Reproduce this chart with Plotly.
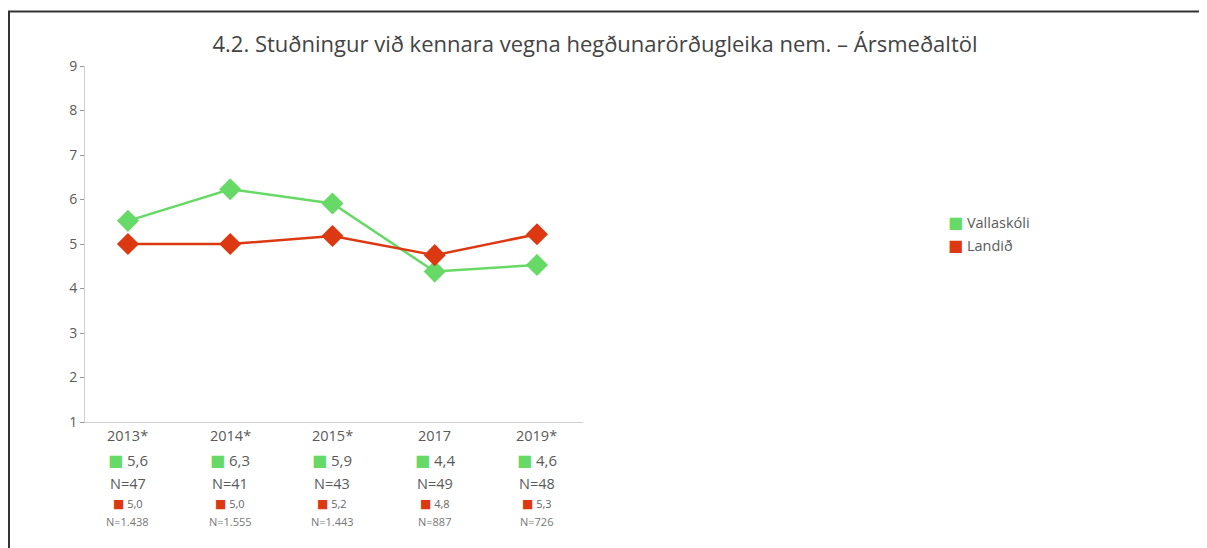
import plotly.graph_objects as go

years = ["2013*", "2014*", "2015*", "2017", "2019*"]
school_values = [5.52, 6.23, 5.91, 4.38, 4.53]
national_values = [5.0, 5.0, 5.18, 4.75, 5.22]
school_labels = ["5,6", "6,3", "5,9", "4,4", "4,6"]
school_n = ["N=47", "N=41", "N=43", "N=49", "N=48"]
national_labels = ["5,0", "5,0", "5,2", "4,8", "5,3"]
national_n = ["N=1.438", "N=1.555", "N=1.443", "N=887", "N=726"]
series_names = ["Vallaskóli", "Landið"]
title = "4.2. Stuðningur við kennara vegna hegðunarörðugleika nem. – Ársmeðaltöl"

GREEN = "#66d966"
RED = "#dc3912"
TXT = "#5a5a5a"
FONT = "Open Sans"

# page has 8px body margin -> figure coords = reference px - 8
OFF = 8
W, H = 1207 - OFF, 548 - OFF
L, R, T, B = 85 - OFF, 583 - OFF, 66 - OFF, 422 - OFF


def px(x):
    return (x - OFF - L) / (R - L)


def py(y):
    return (B - (y - OFF)) / (B - T)


def sq(color, size):
    return f"<span style='color:{color};font-family:DejaVu Sans;font-size:{size}px'>■</span>"


xi = list(range(len(years)))
colors = [GREEN, RED]
fig = go.Figure()
for name, vals, col in zip(series_names, [school_values, national_values], colors):
    fig.add_trace(go.Scatter(x=xi, y=vals, mode="lines+markers", name=name, showlegend=False,
                             line=dict(color=col, width=2.5),
                             marker=dict(symbol="diamond", size=17, color=col)))

ann = []
for i in xi:
    ann.append(dict(x=i, y=py(435), xref="x", yref="paper", text=years[i], showarrow=False,
                    font=dict(size=14.5, color=TXT, family=FONT), yanchor="middle"))
    ann.append(dict(x=i, y=py(460), xref="x", yref="paper",
                    text=f"{sq(GREEN, 16)} {school_labels[i]}",
                    showarrow=False, font=dict(size=15, color=TXT, family=FONT), yanchor="middle"))
    ann.append(dict(x=i, y=py(483), xref="x", yref="paper", text=school_n[i], showarrow=False,
                    font=dict(size=14.5, color=TXT, family=FONT), yanchor="middle"))
    ann.append(dict(x=i, y=py(503), xref="x", yref="paper",
                    text=f"{sq(RED, 12)} {national_labels[i]}",
                    showarrow=False, font=dict(size=11, color="#666666", family=FONT), yanchor="middle"))
    ann.append(dict(x=i, y=py(521), xref="x", yref="paper", text=national_n[i], showarrow=False,
                    font=dict(size=11, color="#777777", family=FONT), yanchor="middle"))

# legend (square swatches)
for k, (name, col) in enumerate(zip(series_names, colors)):
    ann.append(dict(x=px(946), y=py(222 + 23 * k), xref="paper", yref="paper",
                    text=f"{sq(col, 16)} {name}", showarrow=False, xanchor="left", yanchor="middle",
                    font=dict(size=14.5, color=TXT, family=FONT)))

shapes = [
    dict(type="line", xref="paper", yref="paper", x0=px(8), x1=px(1215), y0=py(11.5), y1=py(11.5),
         line=dict(color="#333333", width=2)),
    dict(type="line", xref="paper", yref="paper", x0=px(9), x1=px(9), y0=py(11), y1=py(560),
         line=dict(color="#333333", width=2)),
]

fig.update_layout(
    width=W, height=H,
    margin=dict(l=L, r=W - R, t=T, b=H - B, pad=0),
    paper_bgcolor="white", plot_bgcolor="white",
    title=dict(text=title, xref="container", yref="container", x=(595 - OFF) / W, xanchor="center",
               y=1 - (44 - OFF) / H, yanchor="middle",
               font=dict(size=22, color="#444444", family=FONT)),
    font=dict(family=FONT, color=TXT),
    showlegend=False,
    xaxis=dict(range=[-0.42, 4.45], showticklabels=False, showgrid=False, zeroline=False,
               showline=True, linecolor="#d0d0d0", linewidth=1, ticks=""),
    yaxis=dict(range=[1, 9], dtick=1, showgrid=False, zeroline=False, showline=True,
               linecolor="#d0d0d0", linewidth=1, ticks="outside", ticklen=4, tickcolor="#999999",
               tickfont=dict(size=14, color=TXT, family=FONT)),
    annotations=ann, shapes=shapes,
)
fig.write_html("out.html")
